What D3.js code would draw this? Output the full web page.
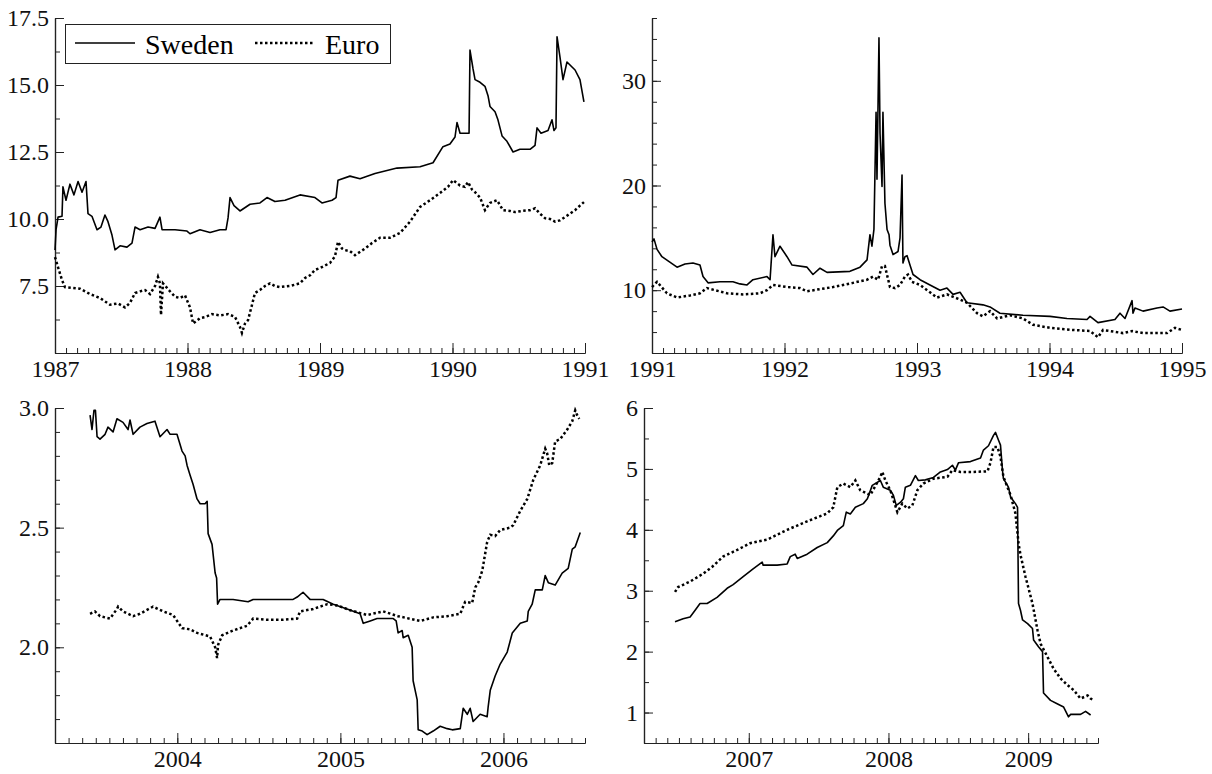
<!DOCTYPE html>
<html>
<head>
<meta charset="utf-8">
<script src="https://cdn.jsdelivr.net/npm/d3@7"></script>
<style>
  body { margin: 0; background: #fff; }
  svg { display: block; }
  svg text { font-family: "Liberation Serif", "Times New Roman", serif; }
</style>
</head>
<body>
<svg id="chart" width="1212" height="774"></svg>
<script>
// interest rates, Sweden vs Euro, four periods
// each point is [decimal year, rate]

const sweden8790 = [[1987.000,8.84],[1987.008,9.6],[1987.023,10.07],[1987.053,10.1],[1987.060,11.2],[1987.083,10.7],[1987.113,11.3],[1987.143,10.9],[1987.174,11.4],[1987.204,11.0],[1987.234,11.4],[1987.249,10.2],[1987.279,10.1],[1987.317,9.6],[1987.347,9.7],[1987.377,10.15],[1987.400,9.9],[1987.430,9.4],[1987.453,8.85],[1987.491,9.0],[1987.543,8.95],[1987.581,9.1],[1987.604,9.7],[1987.642,9.6],[1987.702,9.7],[1987.755,9.65],[1987.792,10.07],[1987.808,9.6],[1987.906,9.6],[1987.996,9.55],[1988.019,9.45],[1988.094,9.6],[1988.170,9.5],[1988.245,9.6],[1988.291,9.6],[1988.306,10.04],[1988.321,10.8],[1988.351,10.5],[1988.396,10.3],[1988.472,10.55],[1988.547,10.6],[1988.600,10.8],[1988.660,10.65],[1988.736,10.7],[1988.849,10.9],[1988.962,10.8],[1989.015,10.6],[1989.091,10.7],[1989.121,10.8],[1989.136,11.45],[1989.226,11.6],[1989.302,11.5],[1989.415,11.7],[1989.581,11.9],[1989.755,11.95],[1989.853,12.1],[1989.928,12.7],[1989.981,12.8],[1990.019,13.06],[1990.034,13.6],[1990.057,13.2],[1990.125,13.2],[1990.132,16.3],[1990.155,15.6],[1990.170,15.2],[1990.208,15.1],[1990.245,14.95],[1990.268,14.6],[1990.283,14.2],[1990.321,14.0],[1990.343,13.7],[1990.374,13.1],[1990.411,12.9],[1990.457,12.5],[1990.509,12.6],[1990.585,12.6],[1990.623,12.75],[1990.638,13.4],[1990.668,13.2],[1990.721,13.3],[1990.751,13.7],[1990.766,13.3],[1990.781,13.4],[1990.789,16.8],[1990.811,16.05],[1990.834,15.2],[1990.864,15.86],[1990.925,15.56],[1990.962,15.2],[1990.992,14.37]];

const euro8790 = [[1987.000,8.58],[1987.023,8.2],[1987.053,7.72],[1987.075,7.46],[1987.189,7.4],[1987.264,7.2],[1987.340,7.05],[1987.415,6.8],[1987.475,6.85],[1987.528,6.7],[1987.566,6.87],[1987.604,7.24],[1987.642,7.3],[1987.679,7.35],[1987.717,7.2],[1987.755,7.5],[1987.777,7.84],[1987.792,7.6],[1987.800,6.42],[1987.815,7.6],[1987.868,7.3],[1987.906,7.1],[1987.943,7.05],[1987.981,7.15],[1988.019,6.7],[1988.042,6.1],[1988.094,6.3],[1988.132,6.34],[1988.185,6.45],[1988.245,6.4],[1988.306,6.45],[1988.358,6.35],[1988.396,5.97],[1988.411,5.75],[1988.434,6.1],[1988.457,6.23],[1988.487,6.8],[1988.509,7.24],[1988.547,7.35],[1988.585,7.5],[1988.623,7.6],[1988.660,7.5],[1988.698,7.46],[1988.774,7.5],[1988.849,7.6],[1988.887,7.8],[1988.925,7.9],[1988.962,8.1],[1989.000,8.17],[1989.075,8.36],[1989.113,8.6],[1989.136,9.15],[1989.166,8.9],[1989.189,8.84],[1989.226,8.8],[1989.264,8.65],[1989.340,8.9],[1989.392,9.1],[1989.453,9.3],[1989.528,9.3],[1989.604,9.48],[1989.679,9.9],[1989.755,10.45],[1989.830,10.7],[1989.906,10.97],[1989.966,11.2],[1990.004,11.45],[1990.057,11.25],[1990.094,11.2],[1990.117,11.38],[1990.147,11.1],[1990.170,11.0],[1990.208,10.8],[1990.245,10.33],[1990.283,10.6],[1990.336,10.7],[1990.381,10.33],[1990.434,10.3],[1990.472,10.26],[1990.525,10.3],[1990.585,10.33],[1990.623,10.4],[1990.660,10.2],[1990.698,10.03],[1990.736,10.0],[1990.774,9.9],[1990.811,9.95],[1990.849,10.07],[1990.887,10.2],[1990.925,10.33],[1990.962,10.5],[1990.992,10.63]];

const sweden9194 = [[1991.000,14.6],[1991.015,14.9],[1991.038,13.9],[1991.075,13.2],[1991.121,12.8],[1991.189,12.2],[1991.249,12.5],[1991.309,12.6],[1991.362,12.4],[1991.385,11.3],[1991.423,10.7],[1991.513,10.8],[1991.611,10.8],[1991.664,10.6],[1991.717,10.5],[1991.762,11.0],[1991.868,11.3],[1991.891,11.0],[1991.913,15.3],[1991.928,13.2],[1991.966,14.2],[1992.019,13.2],[1992.057,12.4],[1992.170,12.2],[1992.215,11.5],[1992.268,12.1],[1992.321,11.7],[1992.494,11.8],[1992.570,12.2],[1992.623,12.9],[1992.645,15.3],[1992.660,14.2],[1992.675,15.8],[1992.691,27],[1992.698,20.6],[1992.713,34.1],[1992.721,25],[1992.736,19.9],[1992.743,27],[1992.758,18.3],[1992.774,15.8],[1992.789,15.3],[1992.796,14.3],[1992.819,13.4],[1992.857,13.7],[1992.872,15.0],[1992.887,21],[1992.894,12.6],[1992.909,13.2],[1992.925,13.3],[1992.947,12.4],[1992.970,11.5],[1993.023,11.0],[1993.098,10.5],[1993.174,10.0],[1993.226,10.2],[1993.272,9.6],[1993.325,9.8],[1993.377,8.8],[1993.498,8.6],[1993.551,8.4],[1993.626,7.8],[1993.800,7.6],[1994.004,7.5],[1994.132,7.3],[1994.283,7.2],[1994.306,7.5],[1994.366,6.9],[1994.494,7.2],[1994.532,7.8],[1994.570,7.3],[1994.623,9.0],[1994.630,7.8],[1994.645,8.3],[1994.706,8.0],[1994.811,8.3],[1994.857,8.4],[1994.909,8.0],[1995.000,8.2]];

const euro9194 = [[1991.000,10.3],[1991.038,10.8],[1991.113,9.7],[1991.189,9.3],[1991.287,9.5],[1991.362,9.7],[1991.415,10.2],[1991.566,9.7],[1991.687,9.6],[1991.815,9.7],[1991.868,10.0],[1991.913,10.5],[1992.019,10.3],[1992.117,10.2],[1992.170,9.9],[1992.366,10.3],[1992.517,10.7],[1992.623,11.0],[1992.668,11.3],[1992.706,11.0],[1992.736,12.3],[1992.758,12.3],[1992.796,10.3],[1992.834,10.2],[1992.872,10.5],[1992.909,11.3],[1992.932,11.5],[1992.962,10.8],[1993.023,10.5],[1993.098,9.8],[1993.151,9.3],[1993.226,9.6],[1993.325,9.1],[1993.377,8.8],[1993.453,7.8],[1993.498,7.5],[1993.551,8.0],[1993.604,7.3],[1993.702,7.6],[1993.800,7.3],[1993.875,6.7],[1994.004,6.4],[1994.177,6.2],[1994.306,6.1],[1994.366,5.5],[1994.404,6.2],[1994.555,5.9],[1994.623,6.1],[1994.706,5.9],[1994.887,5.9],[1994.947,6.4],[1995.000,6.2]];

const sweden0306 = [[2003.465,2.97],[2003.477,2.91],[2003.489,2.99],[2003.498,2.99],[2003.508,2.88],[2003.526,2.87],[2003.557,2.89],[2003.575,2.92],[2003.606,2.90],[2003.630,2.955],[2003.667,2.94],[2003.698,2.91],[2003.710,2.95],[2003.729,2.89],[2003.771,2.92],[2003.814,2.935],[2003.863,2.945],[2003.894,2.88],[2003.937,2.91],[2003.956,2.89],[2003.998,2.89],[2004.029,2.82],[2004.048,2.80],[2004.060,2.76],[2004.078,2.72],[2004.097,2.68],[2004.121,2.62],[2004.140,2.60],[2004.170,2.60],[2004.183,2.61],[2004.189,2.475],[2004.213,2.43],[2004.232,2.31],[2004.241,2.29],[2004.247,2.18],[2004.262,2.20],[2004.342,2.20],[2004.434,2.19],[2004.465,2.20],[2004.710,2.20],[2004.735,2.21],[2004.771,2.23],[2004.814,2.20],[2004.894,2.20],[2004.956,2.18],[2005.041,2.16],[2005.121,2.14],[2005.140,2.10],[2005.183,2.11],[2005.225,2.12],[2005.305,2.12],[2005.324,2.12],[2005.342,2.11],[2005.354,2.06],[2005.379,2.07],[2005.385,2.04],[2005.416,2.05],[2005.440,2.00],[2005.446,1.86],[2005.471,1.78],[2005.477,1.655],[2005.502,1.65],[2005.532,1.635],[2005.569,1.65],[2005.612,1.67],[2005.655,1.66],[2005.686,1.655],[2005.735,1.66],[2005.753,1.745],[2005.778,1.72],[2005.796,1.745],[2005.814,1.69],[2005.857,1.72],[2005.900,1.71],[2005.906,1.75],[2005.919,1.82],[2005.949,1.88],[2005.980,1.93],[2006.023,1.98],[2006.054,2.06],[2006.103,2.10],[2006.146,2.11],[2006.152,2.15],[2006.176,2.18],[2006.195,2.24],[2006.238,2.24],[2006.256,2.30],[2006.275,2.27],[2006.317,2.26],[2006.360,2.31],[2006.397,2.33],[2006.422,2.41],[2006.440,2.42],[2006.471,2.48]];

const euro0306 = [[2003.465,2.14],[2003.495,2.15],[2003.526,2.13],[2003.587,2.12],[2003.630,2.16],[2003.637,2.17],[2003.667,2.15],[2003.729,2.13],[2003.771,2.14],[2003.851,2.17],[2003.913,2.15],[2003.974,2.135],[2004.029,2.08],[2004.078,2.075],[2004.121,2.06],[2004.201,2.045],[2004.232,2.00],[2004.244,1.955],[2004.250,2.01],[2004.275,2.05],[2004.342,2.07],[2004.428,2.09],[2004.465,2.12],[2004.551,2.115],[2004.649,2.115],[2004.735,2.12],[2004.753,2.15],[2004.833,2.16],[2004.919,2.18],[2004.980,2.175],[2005.060,2.155],[2005.164,2.135],[2005.262,2.15],[2005.354,2.13],[2005.489,2.11],[2005.569,2.125],[2005.655,2.13],[2005.735,2.14],[2005.765,2.19],[2005.808,2.185],[2005.827,2.25],[2005.845,2.27],[2005.870,2.32],[2005.900,2.44],[2005.919,2.47],[2005.949,2.465],[2005.980,2.49],[2006.041,2.50],[2006.060,2.51],[2006.103,2.57],[2006.146,2.62],[2006.183,2.70],[2006.225,2.76],[2006.256,2.83],[2006.268,2.81],[2006.281,2.76],[2006.299,2.77],[2006.317,2.86],[2006.348,2.87],[2006.391,2.91],[2006.422,2.945],[2006.440,2.99],[2006.452,2.97],[2006.465,2.955]];

const sweden0609 = [[2006.472,2.49],[2006.530,2.54],[2006.580,2.57],[2006.616,2.68],[2006.651,2.79],[2006.702,2.79],[2006.773,2.89],[2006.845,3.04],[2006.888,3.10],[2006.960,3.23],[2007.031,3.36],[2007.096,3.47],[2007.103,3.42],[2007.203,3.42],[2007.275,3.44],[2007.297,3.56],[2007.332,3.60],[2007.347,3.53],[2007.418,3.60],[2007.490,3.71],[2007.562,3.79],[2007.605,3.90],[2007.634,3.99],[2007.677,4.07],[2007.698,4.29],[2007.727,4.26],[2007.763,4.37],[2007.820,4.43],[2007.849,4.51],[2007.884,4.73],[2007.942,4.81],[2007.963,4.70],[2008.013,4.65],[2008.035,4.57],[2008.056,4.40],[2008.085,4.45],[2008.107,4.51],[2008.121,4.70],[2008.157,4.73],[2008.193,4.89],[2008.214,4.81],[2008.264,4.82],[2008.322,4.86],[2008.372,4.95],[2008.422,4.99],[2008.458,5.06],[2008.479,4.98],[2008.501,5.10],[2008.587,5.12],[2008.659,5.18],[2008.680,5.31],[2008.716,5.38],[2008.752,5.55],[2008.766,5.60],[2008.788,5.47],[2008.802,5.39],[2008.816,4.98],[2008.823,4.84],[2008.859,4.70],[2008.874,4.54],[2008.909,4.43],[2008.924,4.37],[2008.931,2.79],[2008.945,2.68],[2008.960,2.52],[2008.996,2.46],[2009.031,2.38],[2009.039,2.19],[2009.074,2.08],[2009.103,2.00],[2009.110,1.32],[2009.160,1.20],[2009.211,1.14],[2009.254,1.09],[2009.289,0.93],[2009.304,0.97],[2009.375,0.97],[2009.411,1.02],[2009.447,0.96]];

const euro0609 = [[2006.472,2.98],[2006.494,3.06],[2006.580,3.15],[2006.673,3.28],[2006.737,3.39],[2006.816,3.56],[2006.917,3.67],[2007.010,3.78],[2007.132,3.84],[2007.275,4.00],[2007.418,4.14],[2007.562,4.27],[2007.605,4.37],[2007.634,4.70],[2007.677,4.76],[2007.727,4.70],[2007.763,4.81],[2007.798,4.65],[2007.870,4.57],[2007.942,4.87],[2007.956,4.95],[2007.978,4.81],[2008.013,4.65],[2008.064,4.29],[2008.099,4.43],[2008.135,4.35],[2008.171,4.40],[2008.207,4.65],[2008.250,4.76],[2008.322,4.84],[2008.422,4.87],[2008.458,4.98],[2008.515,4.95],[2008.608,4.95],[2008.709,4.96],[2008.730,5.10],[2008.752,5.36],[2008.780,5.36],[2008.802,5.20],[2008.823,4.87],[2008.874,4.57],[2008.909,4.27],[2008.931,3.78],[2008.945,3.59],[2008.981,3.23],[2009.031,2.79],[2009.067,2.35],[2009.089,2.13],[2009.139,1.91],[2009.182,1.72],[2009.232,1.56],[2009.282,1.45],[2009.325,1.37],[2009.375,1.23],[2009.426,1.28],[2009.447,1.23],[2009.469,1.20]];

// tick labels
const years8790 = [1987, 1988, 1989, 1990, 1991];
const years9194 = [1991, 1992, 1993, 1994, 1995];
const years0306 = [2004, 2005, 2006];
const years0609 = [2007, 2008, 2009];
const yTicks8790 = [7.5, 10, 12.5, 15, 17.5];
const yTicks9194 = [10, 20, 30];
const yTicks0306 = [2.0, 2.5, 3.0];
const yTicks0609 = [1, 2, 3, 4, 5, 6];

const font = "'Liberation Serif', 'Times New Roman', serif";
const svg = d3.select("#chart");

const panels = [
  { swe: sweden8790, eur: euro8790, years: years8790, yTicks: yTicks8790,
    xr: [55, 585], yr: [353, 18], xd: [1987, 1991], yd: [5, 17.5], minor: 1.25, fmt: d3.format(".1f") },
  { swe: sweden9194, eur: euro9194, years: years9194, yTicks: yTicks9194,
    xr: [652, 1182], yr: [353, 18], xd: [1991, 1995], yd: [4, 36], minor: 2, fmt: d3.format("d") },
  { swe: sweden0306, eur: euro0306, years: years0306, yTicks: yTicks0306,
    xr: [55, 585], yr: [743, 408], xd: [2003.25, 2006.5], yd: [1.6, 3.0], minor: 0.1, fmt: d3.format(".1f") },
  { swe: sweden0609, eur: euro0609, years: years0609, yTicks: yTicks0609,
    xr: [644, 1098], yr: [743, 408], xd: [2006.25, 2009.5], yd: [0.5, 6], minor: 0.5, fmt: d3.format("d") }
];

function styleAxis(g) {
  g.attr("font-family", null);
  g.select(".domain").attr("stroke", "#222").attr("stroke-width", 1.2);
  g.selectAll(".tick line").attr("stroke", "#222").attr("stroke-width", 1);
  g.selectAll("text")
    .style("font-family", font)
    .style("font-size", "24px")
    .attr("fill", "#111");
}

panels.forEach(p => {
  const x = d3.scaleLinear().domain(p.xd).range(p.xr);
  const y = d3.scaleLinear().domain(p.yd).range(p.yr);

  // monthly minor ticks on x, finer steps on y
  const months = d3.range(Math.ceil(p.xd[0] * 12 - 1e-6), Math.floor(p.xd[1] * 12 + 1e-6) + 1).map(m => m / 12);
  const nMinor = Math.round((p.yd[1] - p.yd[0]) / p.minor);
  const yMinor = d3.range(0, nMinor + 1).map(i => p.yd[0] + i * p.minor);

  svg.append("g")
    .attr("transform", `translate(0,${p.yr[0]})`)
    .call(d3.axisBottom(x).tickValues(months).tickSize(-5).tickSizeOuter(0).tickFormat(""))
    .call(styleAxis);
  svg.append("g")
    .attr("transform", `translate(0,${p.yr[0]})`)
    .call(d3.axisBottom(x).tickValues(p.years).tickSize(-10).tickSizeOuter(0).tickPadding(7).tickFormat(d3.format("d")))
    .call(styleAxis);

  svg.append("g")
    .attr("transform", `translate(${p.xr[0]},0)`)
    .call(d3.axisLeft(y).tickValues(yMinor).tickSize(-5).tickSizeOuter(0).tickFormat(""))
    .call(styleAxis);
  svg.append("g")
    .attr("transform", `translate(${p.xr[0]},0)`)
    .call(d3.axisLeft(y).tickValues(p.yTicks).tickSize(-9).tickSizeOuter(0).tickPadding(6).tickFormat(p.fmt))
    .call(styleAxis);

  const line = d3.line().x(d => x(d[0])).y(d => y(d[1]));

  svg.append("path")
    .datum(p.swe)
    .attr("d", line)
    .attr("fill", "none")
    .attr("stroke", "#000")
    .attr("stroke-width", 1.6)
    .attr("stroke-linejoin", "round");

  svg.append("path")
    .datum(p.eur)
    .attr("d", line)
    .attr("fill", "none")
    .attr("stroke", "#000")
    .attr("stroke-width", 2.5)
    .attr("stroke-dasharray", "2.5,2.5");
});

// legend, top-left panel
const legend = svg.append("g");
legend.append("rect")
  .attr("x", 65.5).attr("y", 24.5).attr("width", 325).attr("height", 39)
  .attr("fill", "#fff").attr("stroke", "#222").attr("stroke-width", 1);
legend.append("line")
  .attr("x1", 75).attr("x2", 135).attr("y1", 43).attr("y2", 43)
  .attr("stroke", "#000").attr("stroke-width", 1.6);
legend.append("text")
  .attr("x", 145).attr("y", 54)
  .style("font-family", font).style("font-size", "28px")
  .text("Sweden");
legend.append("line")
  .attr("x1", 255).attr("x2", 314).attr("y1", 43).attr("y2", 43)
  .attr("stroke", "#000").attr("stroke-width", 2.5).attr("stroke-dasharray", "2.5,2.5");
legend.append("text")
  .attr("x", 325).attr("y", 54)
  .style("font-family", font).style("font-size", "28px")
  .text("Euro");
</script>
</body>
</html>
